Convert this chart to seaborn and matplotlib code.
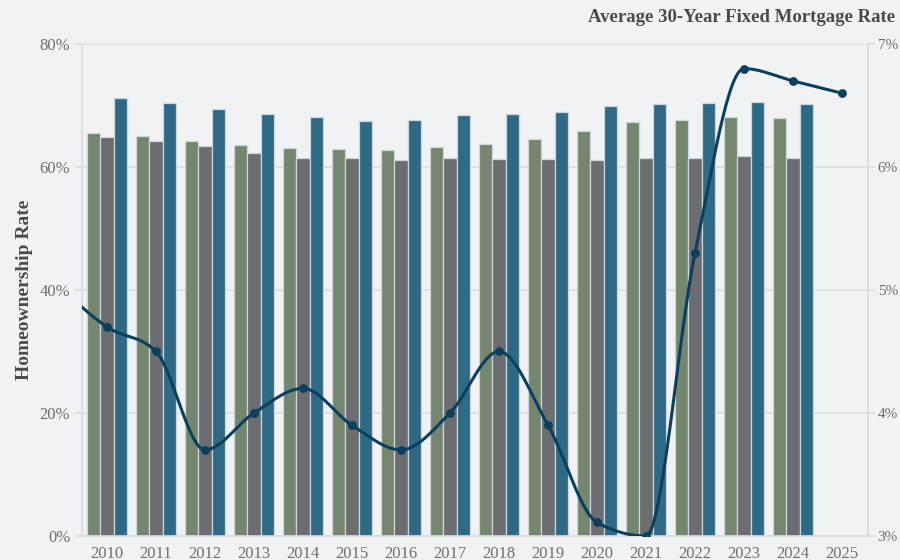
import numpy as np
import pandas as pd
import matplotlib
matplotlib.use("Agg")
import matplotlib.pyplot as plt
import seaborn as sns

# Homeownership rate (%) by year for three groups
years = [2010, 2011, 2012, 2013, 2014, 2015, 2016, 2017,
         2018, 2019, 2020, 2021, 2022, 2023, 2024]
group_a = [65.5, 65.0, 64.3, 63.5, 63.1, 62.9, 62.8, 63.2,
           63.7, 64.6, 65.9, 67.3, 67.6, 68.1, 68.0]
group_b = [64.8, 64.3, 63.4, 62.3, 61.5, 61.4, 61.2, 61.4,
           61.3, 61.3, 61.1, 61.4, 61.4, 61.8, 61.5]
group_c = [71.2, 70.4, 69.4, 68.6, 68.2, 67.5, 67.7, 68.5,
           68.6, 69.0, 69.9, 70.3, 70.4, 70.5, 70.2]

# Average 30-year fixed mortgage rate (%)
rate_years = [2009, 2010, 2011, 2012, 2013, 2014, 2015, 2016, 2017,
              2018, 2019, 2020, 2021, 2022, 2023, 2024, 2025]
rate_values = [5.04, 4.70, 4.50, 3.70, 4.00, 4.20, 3.90, 3.70, 4.00,
               4.50, 3.90, 3.11, 3.00, 5.30, 6.80, 6.70, 6.60]

left_ticks = [0, 20, 40, 60, 80]
right_ticks = [3, 4, 5, 6, 7]
year_ticks = list(range(2010, 2026))

BG = "#f1f2f4"
GRID = "#dcdde1"
TICK_TXT = "#6e6e6e"
bar_palette = ["#74876e", "#6b6d70", "#2e6a85"]
LINE = "#0b3f5e"

sns.set_theme(style="white")
plt.rcParams["font.family"] = ["Liberation Serif", "DejaVu Serif"]

bars = pd.DataFrame({
    "year": np.tile(years, 3),
    "rate": group_a + group_b + group_c,
    "group": ["A"] * len(years) + ["B"] * len(years) + ["C"] * len(years),
})

fig = plt.figure(figsize=(9, 5.6), dpi=100, facecolor=BG)
ax = fig.add_axes([0.0911, 0.0429, 0.8733, 0.8785])
ax.set_facecolor(BG)

sns.barplot(data=bars, x="year", y="rate", hue="group", native_scale=True,
            palette=bar_palette, width=0.8, dodge=True, legend=False,
            edgecolor="#cdd6da", linewidth=0.9, saturation=1, ax=ax)

ax.set_xlim(2009.49, 2025.53)
ax.set_ylim(0, 80)
ax.set_yticks(left_ticks)
ax.set_yticklabels([f"{t}%" for t in left_ticks])
ax.set_xticks(year_ticks)
ax.set_xticklabels([str(y) for y in year_ticks])
ax.yaxis.grid(True, color=GRID, linewidth=1.2)
ax.set_axisbelow(True)
ax.tick_params(axis="both", colors=GRID, labelcolor=TICK_TXT,
               labelsize=12, length=5, width=1.2)
ax.tick_params(axis="x", pad=2)
ax.set_xlabel("")
ax.set_ylabel("Homeownership Rate", fontsize=14, fontweight="bold",
              color="#4a4a4a", labelpad=5)
ax.spines["top"].set_visible(False)
for side in ["left", "right", "bottom"]:
    ax.spines[side].set_color(GRID)
    ax.spines[side].set_linewidth(1.2)

# Mortgage rate on a secondary axis, drawn as a monotone smooth curve
ax2 = ax.twinx()
xs = np.array(rate_years, dtype=float)
ys = np.array(rate_values, dtype=float)
h = np.diff(xs)
s = np.diff(ys) / h
m = np.zeros_like(ys)
for i in range(1, len(ys) - 1):
    p = (s[i - 1] * h[i] + s[i] * h[i - 1]) / (h[i - 1] + h[i])
    m[i] = (np.sign(s[i - 1]) + np.sign(s[i])) * min(abs(s[i - 1]), abs(s[i]), 0.5 * abs(p))
m[0] = (3 * s[0] - m[1]) / 2
m[-1] = (3 * s[-1] - m[-2]) / 2
cx, cy = [], []
for i in range(len(xs) - 1):
    t = np.linspace(0, 1, 30, endpoint=(i == len(xs) - 2))
    h00 = 2 * t**3 - 3 * t**2 + 1
    h10 = t**3 - 2 * t**2 + t
    h01 = -2 * t**3 + 3 * t**2
    h11 = t**3 - t**2
    cx.append(xs[i] + t * h[i])
    cy.append(h00 * ys[i] + h10 * h[i] * m[i] + h01 * ys[i + 1] + h11 * h[i] * m[i + 1])
curve = pd.DataFrame({"x": np.concatenate(cx), "y": np.concatenate(cy)})

sns.lineplot(data=curve, x="x", y="y", color=LINE, linewidth=2.2,
             sort=False, estimator=None, ax=ax2)
pts = pd.DataFrame({"x": rate_years, "y": rate_values})
sns.scatterplot(data=pts, x="x", y="y", color=LINE, s=40, edgecolor=LINE,
                linewidth=0, zorder=5, ax=ax2)

ax2.set_xlim(2009.49, 2025.53)
ax2.set_ylim(3, 7)
ax2.set_yticks(right_ticks)
ax2.set_yticklabels([f"{t}%" for t in right_ticks])
ax2.set_xlabel("")
ax2.set_ylabel("")
ax2.tick_params(axis="y", colors=GRID, labelcolor=TICK_TXT,
                labelsize=11, length=5, width=1.2, pad=2)
for side in ["top", "left", "bottom"]:
    ax2.spines[side].set_visible(False)
ax2.spines["right"].set_color(GRID)
ax2.spines["right"].set_linewidth(1.2)

fig.text(0.995, 0.968, "Average 30-Year Fixed Mortgage Rate", ha="right",
         va="center", fontsize=13.5, fontweight="bold", color="#4a4a4a")

fig.savefig("out.png", dpi=100, facecolor=BG)
